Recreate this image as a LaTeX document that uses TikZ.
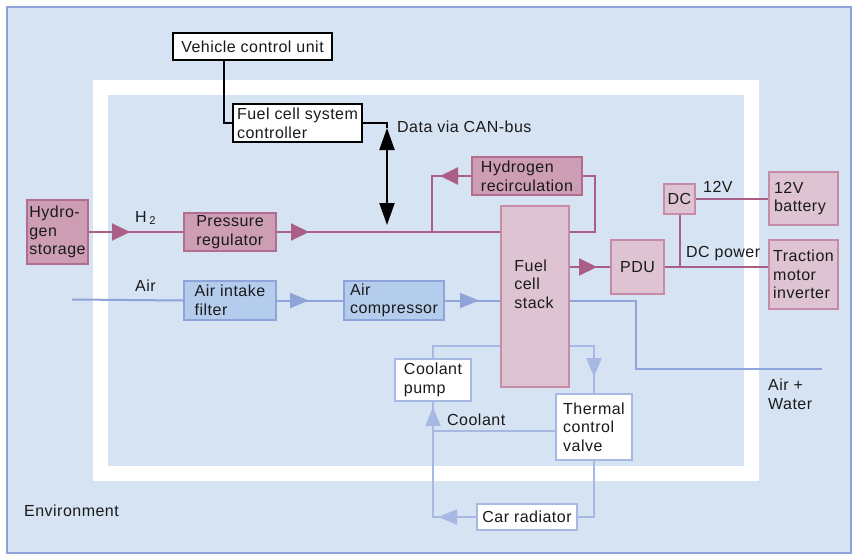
\documentclass[tikz,border=0pt]{standalone}
\usepackage{fontspec}
\setmainfont[LetterSpace=3]{Liberation Sans}
\usetikzlibrary{arrows.meta,decorations.markings}
\definecolor{bgc}{HTML}{D5E3F3}
\definecolor{frame}{HTML}{8EA4D8}
\definecolor{pkd}{HTML}{CC9DB3}
\definecolor{pkdb}{HTML}{B36C90}
\definecolor{pkl}{HTML}{DEC3D2}
\definecolor{pklb}{HTML}{C68CA7}
\definecolor{pkline}{HTML}{AA5D85}
\definecolor{blf}{HTML}{B5CDEC}
\definecolor{bl}{HTML}{8FA4D8}
\definecolor{cl}{HTML}{A7B8E2}
\definecolor{txt}{HTML}{1A1A1A}
\tikzset{
  ptip/.tip={Triangle[length=18pt,width=17pt]},
  btip/.tip={Triangle[length=19pt,width=15pt]},
  ctip/.tip={Triangle[length=19pt,width=15pt]},
  ktip/.tip={Triangle[length=22pt,width=15pt]},
}
\begin{document}
\begin{tikzpicture}[x=1pt,y=-1pt,
  font=\fontsize{16}{18.7}\selectfont,
  box/.style={draw, line width=2pt, inner sep=0pt, align=left, anchor=north west, text=txt},
  kbox/.style={box, draw=black, fill=white},
  dpbox/.style={box, draw=pkdb, fill=pkd},
  lpbox/.style={box, draw=pklb, fill=pkl},
  bbox/.style={box, draw=bl, fill=blf},
  wbox/.style={box, draw=cl, fill=white},
  kline/.style={draw=black, line width=2pt},
  pline/.style={draw=pkline, line width=2pt},
  bline/.style={draw=bl, line width=2pt},
  cline/.style={draw=cl, line width=2pt},
  marr/.style 2 args={postaction={decorate}, decoration={markings, mark=at position #1 with {\arrow{#2}}}},
  lbl/.style={anchor=west, inner sep=0pt, text=txt, align=left},
]
\useasboundingbox (0,0) rectangle (853,555);
\fill[white] (0,0) rectangle (853,555);
\draw[draw=frame, fill=bgc, line width=2pt] (7,7) rectangle (851,553);
\fill[white] (93,80) rectangle (759,481);
\fill[bgc] (108,95) rectangle (744,466);

% boxes
\node[kbox, minimum width=159pt, minimum height=27pt] (vcu) at (172,32) {Vehicle control unit};
\node[kbox, minimum width=129pt, minimum height=38pt] (fcsc) at (232,103) {Fuel cell system\\controller};
\node[dpbox, minimum width=61pt, minimum height=64pt] (hs) at (26,199) {Hydro-\\gen\\storage};
\node[dpbox, minimum width=92pt, minimum height=38pt] (pr) at (183,212) {Pressure\\regulator};
\node[dpbox, minimum width=110pt, minimum height=38pt] (rec) at (471,156) {Hydrogen\\recirculation};
\node[lpbox, minimum width=68pt, minimum height=181pt] (stack) at (500,205) {};
\node[text=txt, align=left] (stacklbl) at (534,284) {Fuel\\cell\\stack};
\node[lpbox, minimum width=53pt, minimum height=54pt, align=center] (pdu) at (610,239) {PDU};
\node[lpbox, minimum width=31pt, minimum height=30pt, align=center] (dc) at (663,183) {DC};
\node[lpbox, minimum width=69pt, minimum height=53pt, text width=59pt] (bat) at (768,171) {12V\\battery};
\node[lpbox, minimum width=69pt, minimum height=69pt] (tmi) at (768,239) {Traction\\motor\\inverter};
\node[bbox, minimum width=92pt, minimum height=39pt] (aif) at (183,280) {Air intake\\filter};
\node[bbox, minimum width=100pt, minimum height=39pt] (ac) at (343,280) {Air\\compressor};
\node[wbox, minimum width=76pt, minimum height=42pt] (pump) at (394,358) {Coolant\\pump};
\node[wbox, minimum width=76pt, minimum height=66pt] (valve) at (555,393) {Thermal\\control\\valve};
\node[wbox, minimum width=100pt, minimum height=26pt] (rad) at (476,503) {Car radiator};

% labels
\node[lbl] (envlbl) at (24,511) {Environment};
\node[lbl] (h2lbl) at (135,218) {H\,\textsubscript{2}};
\node[lbl] (airlbl) at (135,286) {Air};
\node[lbl] (canlbl) at (397,127) {Data via CAN-bus};
\node[lbl] (v12lbl) at (703,187) {12V};
\node[lbl] (dcplbl) at (686,254) {DC power};
\node[lbl] (awlbl) at (768,394) {Air +\\Water};
\node[lbl] (coollbl) at (447,420) {Coolant};

% coordinates for free ends
\coordinate (cantip) at (387,128);
\coordinate (canend) at (387,225);
\coordinate (recj) at (432,231);
\coordinate (airin) at (72,299.5);
\coordinate (exout) at (822,369);
\coordinate (cjoin) at (432,431);

% control
\draw[kline] (vcu.south -| 224,0) |- (fcsc.west);
\draw[kline] (fcsc.east) -| (cantip);
\draw[kline, {ktip}-{ktip}] (cantip) -- (canend);

% hydrogen
\draw[pline, marr={41pt}{ptip}] (hs.east) -- (hs.east -| pr.west);
\draw[pline, marr={32pt}{ptip}] (pr.east) -- (pr.east -| stack.west);
\draw[pline] (pr.east -| stack.east) -- ++(25,0) |- (rec.east);
\draw[pline, marr={31pt}{ptip}] (rec.west) -| (recj);

% electric
\draw[pline, marr={27pt}{ptip}] (stack.east |- pdu.west) -- (pdu.west);
\draw[pline] (pdu.east) -- (pdu.east -| tmi.west);
\draw[pline] (dc.south) -- (dc.south |- pdu.east);
\draw[pline] (dc.east) -- (dc.east -| bat.west);

% air
\draw[bline] (airin) -- (aif.west);
\draw[bline, marr={32pt}{btip}] (aif.east) -- (ac.west);
\draw[bline, marr={34pt}{btip}] (ac.east) -- (ac.east -| stack.west);
\draw[bline] (ac.east -| stack.east) -- ++(66,0) |- (exout);

% coolant
\draw[cline] (stack.west |- 0,346) -| (pump.north);
\draw[cline, marr={55pt}{ctip}] (stack.east |- 0,346) -| (valve.north);
\draw[cline] (valve.west |- cjoin) -- (cjoin);
\draw[cline] (valve.south) |- (rad.east);
\draw[cline, postaction={decorate}, decoration={markings,
   mark=at position 38pt with {\arrow{ctip}},
   mark=at position 153pt with {\arrow{ctip}}}] (rad.west) -| (pump.south);
\end{tikzpicture}
\end{document}
